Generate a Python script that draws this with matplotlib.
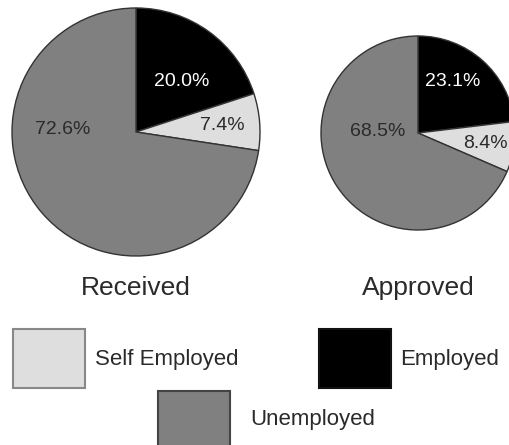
import matplotlib
matplotlib.use("Agg")
import matplotlib.pyplot as plt
import matplotlib.patches as patches

plt.rcParams['font.family'] = ['Liberation Sans', 'DejaVu Sans']

# data
categories = ['Employed', 'Self Employed', 'Unemployed']
received = [20.0, 7.4, 72.6]
approved = [23.1, 8.4, 68.5]
pie_titles = ['Received', 'Approved']

colors = ['#000000', '#dedede', '#808080']
pct_colors = ['white', '#2a2a2a', '#2a2a2a']

W, H = 510, 445
fig = plt.figure(figsize=(W / 100, H / 100), dpi=100)
ax = fig.add_axes([0, 0, 1, 1])

def Y(y):
    # pixel row -> data y
    return H - y

# pie layout: center x, center y (pixels), radius, label offsets (px from center)
pies = [
    (received, 136, 132, 124, [(46, -50), (86, -6), (-73, -3)]),
    (approved, 418, 133, 97, [(35, -52), (67, 10), (-40, -1)]),
]

for (vals, cx, cy, r, offs), title in zip(pies, pie_titles):
    ax.pie(vals, colors=colors, startangle=90, counterclock=False,
           center=(cx, Y(cy)), radius=r, frame=True,
           wedgeprops=dict(edgecolor='#333333', linewidth=1.0))
    for v, (dx, dy), c in zip(vals, offs, pct_colors):
        ax.text(cx + dx, Y(cy + dy), f'{v:.1f}%', color=c, fontsize=14,
                ha='center', va='center')
    ax.text(cx, Y(288), title, fontsize=19, color='#2a2a2a',
            ha='center', va='center')

ax.set_xlim(0, W)
ax.set_ylim(0, H)
ax.set_aspect('auto')
ax.axis('off')

# legend boxes: (category index, x, y top, text x, text y)
legend_pos = [
    (1, 13, 329, 95, 359),
    (0, 319, 329, 400, 359),
    (2, 158, 391, 250, 420),
]
edge = {0: '#111111', 1: '#888888', 2: '#444444'}
for i, x, y, tx, ty in legend_pos:
    box = patches.Rectangle((x, Y(y + 59)), 72, 59, facecolor=colors[i],
                            edgecolor=edge[i], linewidth=1.5)
    ax.add_patch(box)
    ax.text(tx, Y(ty), categories[i], fontsize=16, color='#2a2a2a',
            ha='left', va='center')

fig.savefig('out.png', dpi=100)
